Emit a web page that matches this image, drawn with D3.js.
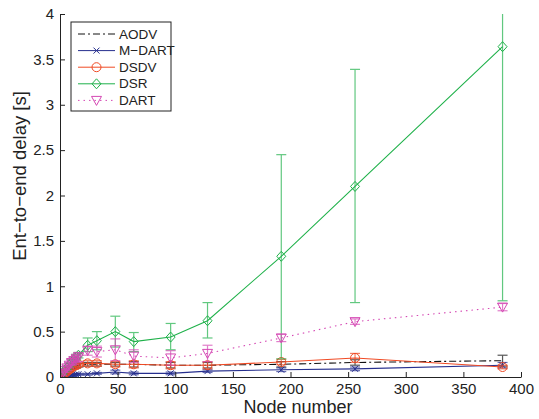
<!DOCTYPE html>
<html>
<head>
<meta charset="utf-8">
<script src="https://cdn.jsdelivr.net/npm/d3@7"></script>
<style>
  body { margin: 0; background: #fff; }
  text { font-family: "Liberation Sans", Arial, sans-serif; }
</style>
</head>
<body>
<div id="chart"></div>
<script>
const nodes = [2, 4, 6, 8, 10, 12, 14, 16, 24, 32, 48, 64, 96, 128, 192, 256, 384];

const aodv = [0.02, 0.04, 0.06, 0.08, 0.10, 0.11, 0.12, 0.13, 0.14, 0.14, 0.14, 0.14, 0.13, 0.13, 0.14, 0.16, 0.18];
const aodvErr = [0.01, 0.01, 0.02, 0.02, 0.02, 0.02, 0.02, 0.02, 0.02, 0.02, 0.02, 0.03, 0.03, 0.03, 0.03, 0.03, 0.06];

const mdart = [0.00, 0.01, 0.01, 0.02, 0.02, 0.02, 0.03, 0.03, 0.03, 0.04, 0.055, 0.04, 0.04, 0.065, 0.08, 0.09, 0.13];
const mdartErr = [0.005, 0.005, 0.01, 0.01, 0.01, 0.01, 0.01, 0.01, 0.01, 0.01, 0.02, 0.015, 0.015, 0.015, 0.02, 0.02, 0.03];

const dsdv = [0.02, 0.04, 0.06, 0.08, 0.10, 0.12, 0.13, 0.14, 0.15, 0.15, 0.14, 0.14, 0.13, 0.13, 0.165, 0.21, 0.11];
const dsdvErr = [0.01, 0.01, 0.02, 0.02, 0.02, 0.02, 0.02, 0.02, 0.03, 0.03, 0.03, 0.04, 0.04, 0.04, 0.03, 0.05, 0.02];

const dsr = [0.04, 0.07, 0.10, 0.13, 0.16, 0.19, 0.22, 0.24, 0.35, 0.40, 0.50, 0.39, 0.44, 0.62, 1.33, 2.10, 3.64];
const dsrLo = [0.03, 0.06, 0.08, 0.11, 0.13, 0.16, 0.19, 0.21, 0.28, 0.30, 0.33, 0.28, 0.30, 0.43, 0.20, 0.82, 0.84];
const dsrHi = [0.05, 0.08, 0.12, 0.15, 0.19, 0.22, 0.25, 0.27, 0.43, 0.50, 0.67, 0.49, 0.59, 0.82, 2.45, 3.39, 4.40];

const dart = [0.04, 0.07, 0.10, 0.13, 0.16, 0.18, 0.20, 0.22, 0.29, 0.28, 0.30, 0.23, 0.21, 0.26, 0.43, 0.61, 0.77];
const dartErr = [0.02, 0.02, 0.03, 0.03, 0.03, 0.04, 0.04, 0.05, 0.05, 0.06, 0.12, 0.07, 0.08, 0.09, 0.04, 0.03, 0.04];

const xTicks = [0, 50, 100, 150, 200, 250, 300, 350, 400];
const yTicks = [0, 0.5, 1, 1.5, 2, 2.5, 3, 3.5, 4];

const width = 539;
const height = 419;
const plotLeft = 60, plotRight = 521, plotTop = 14, plotBottom = 377;

const svg = d3.select('#chart')
  .append('svg')
  .attr('width', width)
  .attr('height', height);

const x = d3.scaleLinear().domain([0, 400]).range([plotLeft, plotRight]);
const y = d3.scaleLinear().domain([0, 4]).range([plotBottom, plotTop]);

svg.append('defs').append('clipPath').attr('id', 'plot')
  .append('rect')
  .attr('x', plotLeft).attr('y', plotTop)
  .attr('width', plotRight - plotLeft).attr('height', plotBottom - plotTop);

const series = [
  { name: 'AODV', vals: aodv, lo: aodv.map((v, i) => v - aodvErr[i]), hi: aodv.map((v, i) => v + aodvErr[i]),
    color: '#111', dash: '7,3,2,3', marker: null },
  { name: 'M\u2212DART', vals: mdart, lo: mdart.map((v, i) => v - mdartErr[i]), hi: mdart.map((v, i) => v + mdartErr[i]),
    color: '#262f8e', dash: null, marker: 'x' },
  { name: 'DSDV', vals: dsdv, lo: dsdv.map((v, i) => v - dsdvErr[i]), hi: dsdv.map((v, i) => v + dsdvErr[i]),
    color: '#f04a24', dash: null, marker: 'circle' },
  { name: 'DSR', vals: dsr, lo: dsrLo, hi: dsrHi,
    color: '#1fb14a', dash: null, marker: 'diamond' },
  { name: 'DART', vals: dart, lo: dart.map((v, i) => v - dartErr[i]), hi: dart.map((v, i) => v + dartErr[i]),
    color: '#d548b4', dash: '1.5,4', marker: 'triangle' }
];

function drawMarker(g, type, cx, cy, color) {
  if (type === 'circle') {
    g.append('circle').attr('cx', cx).attr('cy', cy).attr('r', 4.5)
      .attr('fill', 'none').attr('stroke', color).attr('stroke-width', 1);
  } else if (type === 'diamond') {
    g.append('path').attr('d', `M${cx},${cy - 5}L${cx + 4.5},${cy}L${cx},${cy + 5}L${cx - 4.5},${cy}Z`)
      .attr('fill', 'none').attr('stroke', color).attr('stroke-width', 1);
  } else if (type === 'triangle') {
    g.append('path').attr('d', `M${cx - 5},${cy - 4}L${cx + 5},${cy - 4}L${cx},${cy + 5}Z`)
      .attr('fill', 'none').attr('stroke', color).attr('stroke-width', 1);
  } else if (type === 'x') {
    g.append('path').attr('d', `M${cx - 3},${cy - 3}L${cx + 3},${cy + 3}M${cx - 3},${cy + 3}L${cx + 3},${cy - 3}`)
      .attr('stroke', color).attr('stroke-width', 1);
  }
}

const plot = svg.append('g').attr('clip-path', 'url(#plot)');
const line = d3.line().x((d, i) => x(nodes[i])).y(d => y(d));

series.forEach(s => {
  const g = plot.append('g');
  // error bars
  nodes.forEach((n, i) => {
    const cx = x(n);
    const eb = g.append('g').attr('stroke', s.color).attr('stroke-width', 1.2).attr('opacity', 0.7);
    eb.append('line').attr('x1', cx).attr('x2', cx).attr('y1', y(s.lo[i])).attr('y2', y(s.hi[i]));
    eb.append('line').attr('x1', cx - 5).attr('x2', cx + 5).attr('y1', y(s.lo[i])).attr('y2', y(s.lo[i]));
    eb.append('line').attr('x1', cx - 5).attr('x2', cx + 5).attr('y1', y(s.hi[i])).attr('y2', y(s.hi[i]));
  });
  g.append('path')
    .datum(s.vals)
    .attr('d', line)
    .attr('fill', 'none')
    .attr('stroke', s.color)
    .attr('stroke-width', 1.1)
    .attr('stroke-dasharray', s.dash);
  if (s.marker) {
    s.vals.forEach((v, i) => drawMarker(g, s.marker, x(nodes[i]), y(v), s.color));
  }
});

// axes
const axisX = d3.axisBottom(x).tickValues(xTicks).tickSizeInner(-5).tickSizeOuter(0).tickPadding(6).tickFormat(d3.format('d'));
const axisY = d3.axisLeft(y).tickValues(yTicks).tickSizeInner(-5).tickSizeOuter(0).tickPadding(6).tickFormat(d => d);

const gx = svg.append('g').attr('transform', `translate(0,${plotBottom})`).call(axisX);
const gy = svg.append('g').attr('transform', `translate(${plotLeft},0)`).call(axisY);
[gx, gy].forEach(g => {
  g.selectAll('path, line').attr('stroke', '#222');
  g.selectAll('text').attr('font-size', 15).attr('fill', '#222')
    .attr('font-family', '"Liberation Sans", Arial, sans-serif');
});

svg.append('text')
  .attr('x', 298)
  .attr('y', 413)
  .attr('text-anchor', 'middle')
  .attr('font-size', 18)
  .attr('fill', '#222')
  .text('Node number');

svg.append('text')
  .attr('transform', 'rotate(-90)')
  .attr('x', -176)
  .attr('y', 26)
  .attr('text-anchor', 'middle')
  .attr('font-size', 18.5)
  .attr('fill', '#222')
  .text('Ent\u2212to\u2212end delay [s]');

// legend
const legend = svg.append('g');
legend.append('rect')
  .attr('x', 71).attr('y', 22).attr('width', 100).attr('height', 89)
  .attr('fill', '#fff').attr('stroke', '#222').attr('stroke-width', 1);

series.forEach((s, i) => {
  const ly = 34 + i * 16.6;
  legend.append('line')
    .attr('x1', 78).attr('x2', 115).attr('y1', ly).attr('y2', ly)
    .attr('stroke', s.color).attr('stroke-width', 1)
    .attr('stroke-dasharray', s.dash);
  if (s.marker) drawMarker(legend, s.marker, 96.5, ly, s.color);
  legend.append('text')
    .attr('x', 119).attr('y', ly + 4.5)
    .attr('font-size', 13.5)
    .attr('fill', '#222')
    .text(s.name);
});
</script>
</body>
</html>
